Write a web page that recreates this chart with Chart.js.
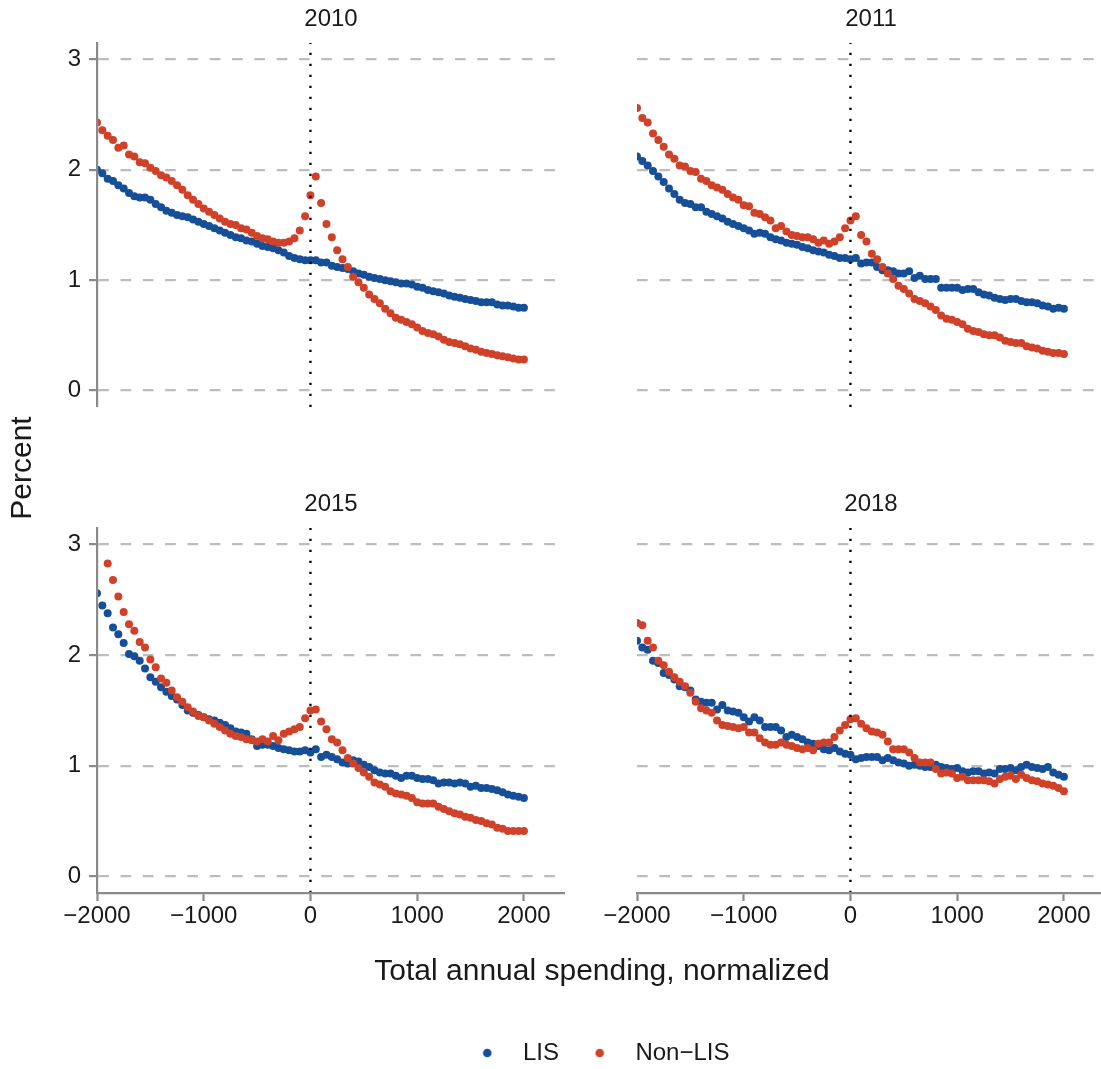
<!DOCTYPE html>
<html>
<head>
<meta charset="utf-8">
<title>Percent by total annual spending, LIS vs Non-LIS</title>
<script src="https://cdn.jsdelivr.net/npm/chart.js@4.4.1/dist/chart.umd.min.js"></script>
<style>
  html, body { margin: 0; padding: 0; background: #ffffff; overflow: hidden; width: 1101px; height: 1069px; }
  canvas { position: absolute; }
</style>
</head>
<body>
<canvas id="frame"></canvas>
<canvas id="p2010"></canvas>
<canvas id="p2011"></canvas>
<canvas id="p2015"></canvas>
<canvas id="p2018"></canvas>
<script>
// Total annual spending, normalized (x positions shared by every panel)
const spending = [
  -2000, -1950, -1900, -1850, -1800, -1750, -1700, -1650, -1600, -1550,
  -1500, -1450, -1400, -1350, -1300, -1250, -1200, -1150, -1100, -1050,
  -1000,  -950,  -900,  -850,  -800,  -750,  -700,  -650,  -600,  -550,
   -500,  -450,  -400,  -350,  -300,  -250,  -200,  -150,  -100,   -50,
      0,    50,   100,   150,   200,   250,   300,   350,   400,   450,
    500,   550,   600,   650,   700,   750,   800,   850,   900,   950,
   1000,  1050,  1100,  1150,  1200,  1250,  1300,  1350,  1400,  1450,
   1500,  1550,  1600,  1650,  1700,  1750,  1800,  1850,  1900,  1950,
   2000
];

const years = ['2010', '2011', '2015', '2018'];
const seriesNames = ['LIS', 'Non\u2212LIS'];
const xTicks = [-2000, -1000, 0, 1000, 2000];
const yTicks = [0, 1, 2, 3];

// Percent, LIS
const lis2010 = [
  2.00, 1.97, 1.92, 1.90, 1.86, 1.83, 1.79, 1.76, 1.75, 1.75,
  1.73, 1.69, 1.66, 1.63, 1.61, 1.59, 1.58, 1.57, 1.55, 1.53,
  1.51, 1.49, 1.47, 1.45, 1.43, 1.41, 1.39, 1.38, 1.36, 1.35,
  1.33, 1.31, 1.30, 1.29, 1.27, 1.25, 1.22, 1.20, 1.19, 1.18,
  1.18, 1.18, 1.16, 1.16, 1.13, 1.12, 1.11, 1.10, 1.08, 1.06,
  1.05, 1.03, 1.02, 1.01, 1.00, 0.99, 0.98, 0.97, 0.97, 0.96,
  0.94, 0.93, 0.91, 0.90, 0.89, 0.88, 0.86, 0.85, 0.84, 0.83,
  0.82, 0.81, 0.80, 0.80, 0.80, 0.78, 0.77, 0.77, 0.76, 0.75,
  0.75
];
const lis2011 = [
  2.12, 2.08, 2.04, 1.99, 1.94, 1.89, 1.83, 1.78, 1.73, 1.70,
  1.69, 1.66, 1.66, 1.62, 1.60, 1.58, 1.56, 1.53, 1.51, 1.49,
  1.47, 1.45, 1.42, 1.43, 1.42, 1.39, 1.37, 1.36, 1.34, 1.33,
  1.32, 1.30, 1.29, 1.27, 1.26, 1.25, 1.23, 1.22, 1.20, 1.20,
  1.19, 1.20, 1.15, 1.16, 1.16, 1.12, 1.09, 1.09, 1.08, 1.06,
  1.06, 1.08, 1.02, 1.04, 1.01, 1.01, 1.01, 0.93, 0.93, 0.93,
  0.93, 0.91, 0.92, 0.92, 0.89, 0.87, 0.86, 0.84, 0.83, 0.82,
  0.83, 0.83, 0.81, 0.80, 0.80, 0.79, 0.77, 0.76, 0.74, 0.75,
  0.74
];
const lis2015 = [
  2.56, 2.45, 2.38, 2.25, 2.19, 2.11, 2.01, 1.99, 1.95, 1.88,
  1.80, 1.76, 1.71, 1.67, 1.63, 1.60, 1.55, 1.50, 1.48, 1.46,
  1.44, 1.42, 1.41, 1.39, 1.37, 1.34, 1.31, 1.30, 1.29, 1.24,
  1.18, 1.19, 1.19, 1.18, 1.16, 1.15, 1.14, 1.13, 1.13, 1.14,
  1.12, 1.15, 1.08, 1.10, 1.08, 1.06, 1.03, 1.02, 1.05, 1.04,
  1.01, 0.99, 0.96, 0.94, 0.93, 0.93, 0.91, 0.89, 0.91, 0.91,
  0.89, 0.88, 0.88, 0.87, 0.84, 0.85, 0.85, 0.84, 0.85, 0.84,
  0.81, 0.82, 0.80, 0.80, 0.79, 0.78, 0.76, 0.74, 0.73, 0.72,
  0.71
];
const lis2018 = [
  2.13, 2.07, 2.05, 1.95, 1.93, 1.84, 1.82, 1.78, 1.72, 1.71,
  1.68, 1.60, 1.58, 1.57, 1.57, 1.51, 1.55, 1.50, 1.49, 1.48,
  1.44, 1.40, 1.44, 1.41, 1.35, 1.35, 1.35, 1.32, 1.26, 1.28,
  1.26, 1.24, 1.21, 1.20, 1.18, 1.15, 1.14, 1.16, 1.13, 1.11,
  1.10, 1.06, 1.07, 1.08, 1.08, 1.08, 1.05, 1.07, 1.05, 1.03,
  1.02, 1.00, 1.01, 1.00, 0.99, 0.99, 1.01, 0.99, 0.98, 0.97,
  0.98, 0.95, 0.94, 0.95, 0.95, 0.93, 0.94, 0.93, 0.97, 0.97,
  0.98, 0.96, 0.99, 1.01, 0.99, 0.98, 0.97, 0.99, 0.94, 0.92,
  0.90
];

// Percent, Non-LIS (null = above the 0–3 axis limits, not shown)
const nonLis2010 = [
  2.43, 2.36, 2.31, 2.27, 2.20, 2.22, 2.14, 2.12, 2.07, 2.06,
  2.02, 1.99, 1.95, 1.93, 1.90, 1.86, 1.82, 1.77, 1.73, 1.69,
  1.65, 1.62, 1.59, 1.56, 1.53, 1.51, 1.50, 1.47, 1.46, 1.43,
  1.40, 1.38, 1.37, 1.35, 1.34, 1.34, 1.35, 1.38, 1.45, 1.58,
  1.77, 1.94, 1.70, 1.51, 1.39, 1.27, 1.19, 1.12, 1.03, 0.98,
  0.93, 0.87, 0.83, 0.79, 0.74, 0.70, 0.66, 0.64, 0.62, 0.60,
  0.57, 0.54, 0.52, 0.51, 0.49, 0.46, 0.44, 0.43, 0.42, 0.40,
  0.38, 0.37, 0.35, 0.34, 0.33, 0.32, 0.31, 0.30, 0.29, 0.28,
  0.28
];
const nonLis2011 = [
  2.56, 2.47, 2.43, 2.33, 2.27, 2.21, 2.14, 2.10, 2.04, 2.03,
  1.99, 1.98, 1.92, 1.90, 1.86, 1.84, 1.82, 1.78, 1.75, 1.73,
  1.68, 1.67, 1.61, 1.60, 1.57, 1.54, 1.47, 1.49, 1.44, 1.41,
  1.40, 1.39, 1.39, 1.37, 1.34, 1.36, 1.33, 1.35, 1.39, 1.47,
  1.54, 1.58, 1.41, 1.35, 1.24, 1.19, 1.12, 1.06, 1.01, 0.95,
  0.92, 0.88, 0.83, 0.81, 0.79, 0.76, 0.73, 0.68, 0.65, 0.64,
  0.62, 0.60, 0.56, 0.54, 0.53, 0.51, 0.50, 0.50, 0.48, 0.45,
  0.44, 0.43, 0.43, 0.40, 0.39, 0.38, 0.36, 0.35, 0.34, 0.34,
  0.33
];
const nonLis2015 = [
  null, null, 2.83, 2.68, 2.53, 2.39, 2.28, 2.22, 2.12, 2.07,
  1.96, 1.89, 1.79, 1.75, 1.68, 1.62, 1.58, 1.53, 1.49, 1.45,
  1.44, 1.41, 1.38, 1.35, 1.32, 1.29, 1.27, 1.26, 1.24, 1.23,
  1.22, 1.24, 1.22, 1.27, 1.23, 1.29, 1.31, 1.33, 1.35, 1.43,
  1.50, 1.51, 1.40, 1.33, 1.24, 1.21, 1.14, 1.07, 1.02, 0.98,
  0.94, 0.90, 0.85, 0.83, 0.81, 0.77, 0.75, 0.74, 0.73, 0.71,
  0.67, 0.66, 0.66, 0.66, 0.63, 0.61, 0.59, 0.57, 0.56, 0.54,
  0.53, 0.51, 0.50, 0.48, 0.47, 0.44, 0.43, 0.41, 0.41, 0.41,
  0.41
];
const nonLis2018 = [
  2.29, 2.27, 2.13, 2.07, 1.95, 1.91, 1.85, 1.80, 1.76, 1.72,
  1.66, 1.58, 1.52, 1.50, 1.48, 1.41, 1.37, 1.36, 1.35, 1.34,
  1.35, 1.30, 1.30, 1.25, 1.21, 1.19, 1.19, 1.21, 1.19, 1.18,
  1.16, 1.15, 1.16, 1.14, 1.20, 1.21, 1.21, 1.26, 1.32, 1.37,
  1.42, 1.43, 1.38, 1.34, 1.31, 1.30, 1.28, 1.22, 1.15, 1.15,
  1.15, 1.12, 1.07, 1.03, 1.03, 1.03, 0.97, 0.93, 0.94, 0.93,
  0.89, 0.90, 0.87, 0.87, 0.87, 0.87, 0.86, 0.84, 0.88, 0.90,
  0.91, 0.88, 0.92, 0.89, 0.87, 0.86, 0.84, 0.83, 0.82, 0.80,
  0.77
];

// ---- styling ----
const FONT = "'Liberation Sans', Arial, Helvetica, sans-serif";
const INK = '#1a1a1a';
const AXIS = '#8a8a8a';
const GRID = '#bdbdbd';
const BLUE = '#164f97';
const RED = '#cf4229';
const X_MIN = -2000, X_MAX = 2385;
const Y_MIN = -0.15, Y_MAX = 3.15;

Chart.defaults.font.family = FONT;
Chart.defaults.color = INK;

function toPoints(values) {
  return spending.map((x, i) => ({ x: x, y: values[i] })).filter(p => p.y !== null);
}

function fixTicks(list) {
  return scale => { scale.ticks = list.map(v => ({ value: v })); };
}

function formatSpending(v) {
  return v < 0 ? '\u2212' + Math.abs(v) : String(v);
}

// one facet panel: box = canvas placement, gutter = space left of the plot area
function drawPanel(id, box, year, lis, nonLis, leftAxis, bottomAxis) {
  const el = document.getElementById(id);
  el.width = box.w;
  el.height = box.h;
  el.style.left = box.x + 'px';
  el.style.top = box.y + 'px';

  return new Chart(el, {
    type: 'scatter',
    data: {
      datasets: [
        {
          type: 'line',
          label: 'zero',
          data: [{ x: 0, y: Y_MIN }, { x: 0, y: Y_MAX }],
          borderColor: '#000000',
          borderWidth: 2.3,
          borderDash: [2.3, 8.7],
          borderCapStyle: 'butt',
          pointRadius: 0,
          order: 0
        },
        { label: seriesNames[1], data: toPoints(nonLis), backgroundColor: RED, order: 1 },
        { label: seriesNames[0], data: toPoints(lis), backgroundColor: BLUE, order: 2 }
      ]
    },
    options: {
      responsive: false,
      animation: false,
      devicePixelRatio: 1,
      events: [],
      layout: { padding: 0, autoPadding: false },
      elements: { point: { radius: 4, hoverRadius: 4, borderWidth: 0 } },
      plugins: {
        legend: { display: false },
        tooltip: { enabled: false },
        title: {
          display: true,
          text: year,
          fullSize: false,
          color: INK,
          font: { family: FONT, size: 24, weight: 'normal', lineHeight: 1.2 },
          padding: { top: 5, bottom: 9.2 }
        }
      },
      scales: {
        x: {
          type: 'linear',
          min: X_MIN,
          max: X_MAX,
          display: bottomAxis,
          afterBuildTicks: fixTicks(xTicks),
          afterFit: s => {
            s.height = bottomAxis ? 60 : 0;
            s.paddingLeft = 0;
            s.paddingRight = 0;
          },
          ticks: {
            color: INK,
            font: { family: FONT, size: 24 },
            padding: 1,
            maxRotation: 0,
            autoSkip: false,
            callback: v => formatSpending(v)
          },
          grid: {
            display: true,
            drawOnChartArea: false,
            drawTicks: true,
            tickLength: 8,
            tickColor: AXIS,
            tickWidth: 2.2
          },
          border: { display: true, color: AXIS, width: 2.2, z: 1 }
        },
        y: {
          type: 'linear',
          min: Y_MIN,
          max: Y_MAX,
          afterBuildTicks: fixTicks(yTicks),
          afterFit: s => {
            s.width = box.gutter;
            s.paddingTop = 0;
            s.paddingBottom = 0;
          },
          ticks: {
            display: leftAxis,
            color: INK,
            font: { family: FONT, size: 24 },
            padding: 8,
            callback: v => String(v)
          },
          grid: {
            display: true,
            color: GRID,
            lineWidth: 2.2,
            drawTicks: leftAxis,
            tickLength: 8,
            tickColor: AXIS,
            tickWidth: 2.2
          },
          border: { display: leftAxis, color: AXIS, width: 2.2, dash: [10.7, 11.6], z: 1 }
        }
      }
    }
  });
}

drawPanel('p2010', { x: 0,   y: 0,   w: 565, h: 407, gutter: 97 }, years[0], lis2010, nonLis2010, true,  false);
drawPanel('p2011', { x: 590, y: 0,   w: 515, h: 407, gutter: 47 }, years[1], lis2011, nonLis2011, false, false);
drawPanel('p2015', { x: 0,   y: 485, w: 565, h: 468, gutter: 97 }, years[2], lis2015, nonLis2015, true,  true);
drawPanel('p2018', { x: 590, y: 485, w: 515, h: 468, gutter: 47 }, years[3], lis2018, nonLis2018, false, true);

// shared axis titles and legend for the whole grid
function legendDot(color) {
  const c = document.createElement('canvas');
  c.width = 10;
  c.height = 10;
  const g = c.getContext('2d');
  g.fillStyle = color;
  g.beginPath();
  g.arc(5, 5, 4.3, 0, Math.PI * 2);
  g.fill();
  return c;
}

const frameEl = document.getElementById('frame');
frameEl.width = 1193;
frameEl.height = 1075;
frameEl.style.left = '0px';
frameEl.style.top = '0px';

new Chart(frameEl, {
  type: 'scatter',
  data: {
    datasets: [
      { label: seriesNames[0], data: [], backgroundColor: BLUE, pointStyle: legendDot(BLUE) },
      { label: seriesNames[1], data: [], backgroundColor: RED, pointStyle: legendDot(RED) }
    ]
  },
  options: {
    responsive: false,
    animation: false,
    devicePixelRatio: 1,
    events: [],
    layout: { padding: { top: 43, left: 0, right: 0, bottom: 0 }, autoPadding: false },
    plugins: {
      tooltip: { enabled: false },
      legend: {
        display: true,
        position: 'bottom',
        labels: {
          usePointStyle: true,
          pointStyleWidth: 47.4,
          padding: 17,
          color: INK,
          font: { family: FONT, size: 24 }
        }
      }
    },
    scales: {
      x: {
        type: 'linear',
        position: 'bottom',
        ticks: { display: false },
        grid: { display: false },
        border: { display: false },
        afterFit: s => { s.height = 131; },
        title: {
          display: true,
          text: 'Total annual spending, normalized',
          color: INK,
          font: { family: FONT, size: 30 },
          padding: { top: 0, bottom: 34 }
        }
      },
      y: {
        type: 'linear',
        position: 'left',
        ticks: { display: false },
        grid: { display: false },
        border: { display: false },
        afterFit: s => { s.width = 97; },
        title: {
          display: true,
          text: 'Percent',
          color: INK,
          font: { family: FONT, size: 30 },
          padding: { top: 4.5, bottom: 0 }
        }
      },
      gutter: {
        type: 'linear',
        position: 'right',
        display: true,
        ticks: { display: false },
        grid: { display: false },
        border: { display: false },
        afterFit: s => { s.width = 86; }
      }
    }
  }
});
</script>
</body>
</html>
